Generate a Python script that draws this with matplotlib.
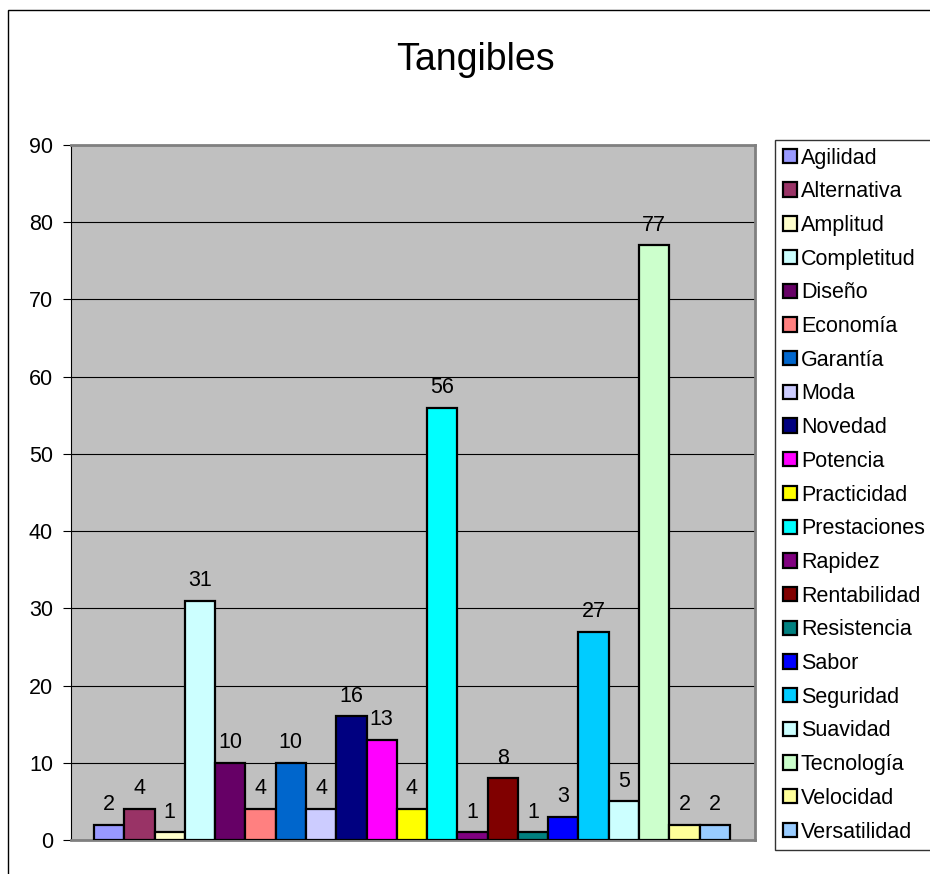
import numpy as np
import matplotlib
matplotlib.use("Agg")
import matplotlib.pyplot as plt
from matplotlib.patches import Rectangle

plt.rcParams['font.family'] = ['Liberation Sans', 'DejaVu Sans']

CATEGORIES = ["Agilidad", "Alternativa", "Amplitud", "Completitud", "Diseño",
              "Economía", "Garantía", "Moda", "Novedad", "Potencia",
              "Practicidad", "Prestaciones", "Rapidez", "Rentabilidad",
              "Resistencia", "Sabor", "Seguridad", "Suavidad", "Tecnología",
              "Velocidad", "Versatilidad"]
VALUES = [2, 4, 1, 31, 10, 4, 10, 4, 16, 13, 4, 56, 1, 8, 1, 3, 27, 5, 77, 2, 2]
COLORS = ["#9999FF", "#993366", "#FFFFCC", "#CCFFFF", "#660066",
          "#FF8080", "#0066CC", "#CCCCFF", "#000080", "#FF00FF",
          "#FFFF00", "#00FFFF", "#800080", "#800000", "#008080",
          "#0000FF", "#00CCFF", "#CCFFFF", "#CCFFCC", "#FFFF99", "#99CCFF"]
Y_TICKS = np.arange(0, 90 + 1, 10)

FS = 15.5
W, H = 930, 874
fig = plt.figure(figsize=(W / 100, H / 100), dpi=100)

# outer chart frame
fig.patches.append(Rectangle((8 / W, -0.1), 1.2, 1 - 10 / H + 0.1,
                             transform=fig.transFigure, fill=False,
                             edgecolor="black", linewidth=1.0))

left, right, top, bottom = 71, 755, 145, 840
ax = fig.add_axes([left / W, 1 - bottom / H, (right - left) / W, (bottom - top) / H])
ax.set_facecolor("#C0C0C0")

bars = []
for i, (v, c, lab) in enumerate(zip(VALUES, COLORS, CATEGORIES)):
    b = ax.bar(i, v, width=1.0, color=c, edgecolor="black", linewidth=1.6,
               label=lab, zorder=3)
    bars.append(b)
    ax.bar_label(b, padding=7, fontsize=FS, zorder=4)

ax.set_xlim(-1.26, 21.33)
ax.set_ylim(0, 90)
ax.set_yticks(Y_TICKS)
ax.set_xticks([])
ax.yaxis.grid(True, color="black", linewidth=0.8, zorder=1)
ax.set_axisbelow(True)
ax.tick_params(axis="y", length=6, width=0.8, pad=7, labelsize=FS)

for s in ["top", "right", "bottom"]:
    ax.spines[s].set_color("#808080")
    ax.spines[s].set_linewidth(2)
ax.spines["left"].set_color("black")
ax.spines["left"].set_linewidth(0.8)

fig.text(475 / W, 1 - 60 / H, "Tangibles", fontsize=27, ha="center", va="center")

leg = fig.legend(handles=[b[0] for b in bars], labels=CATEGORIES,
                 loc="upper left", bbox_to_anchor=(775 / W, 1 - 140 / H),
                 fontsize=FS, frameon=True, fancybox=False,
                 handlelength=0.65, handleheight=0.65, handletextpad=0.2,
                 labelspacing=0.59, borderpad=0.35, borderaxespad=0)
leg.get_frame().set_edgecolor("black")
leg.get_frame().set_linewidth(1.0)

fig.savefig("out.png", dpi=100)
